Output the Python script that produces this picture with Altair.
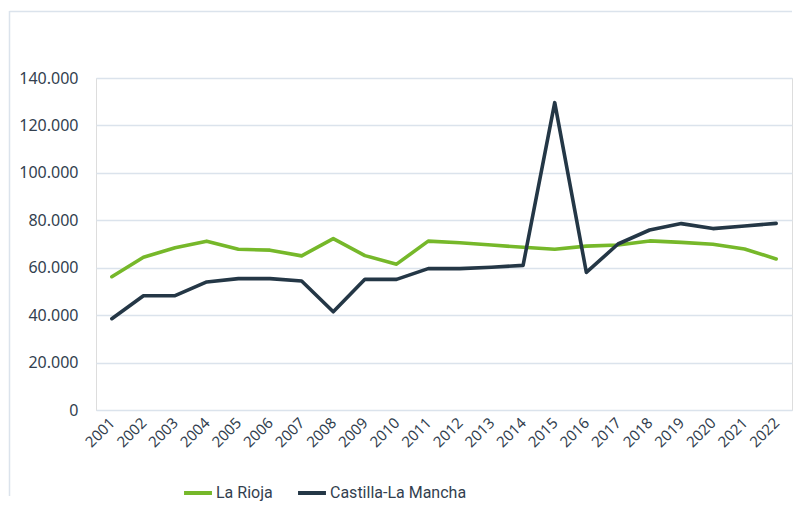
import altair as alt
import pandas as pd

years = [str(y) for y in range(2001, 2023)]
la_rioja = [56200, 64400, 68400, 71200, 67800, 67400, 65000, 72300, 65100, 61500,
            71200, 70500, 69600, 68600, 67800, 69100, 69600, 71300, 70700, 69900,
            67900, 63700]
castilla = [38500, 48200, 48200, 54000, 55400, 55400, 54400, 41400, 55100, 55100,
            59600, 59600, 60200, 61000, 129600, 58000, 70000, 75900, 78600, 76500,
            77600, 78700]
series_names = ["La Rioja", "Castilla-La Mancha"]
series_colors = ["#76b82a", "#243746"]

rows = []
for i, y in enumerate(years):
    rows.append({"year": y, "serie": series_names[0], "value": la_rioja[i]})
    rows.append({"year": y, "serie": series_names[1], "value": castilla[i]})
df = pd.DataFrame(rows)

W, H = 696, 332
FONT = "Noto Sans"
LEG_FONT = "Roboto"
TXT = "#333f4f"
GRID = "#dbe3ec"

lines = alt.Chart(df).mark_line(strokeWidth=3.6, strokeCap="round", strokeJoin="round").encode(
    x=alt.X("year:O", sort=years, title=None,
            scale=alt.Scale(type="point", padding=0.5),
            axis=alt.Axis(labelAngle=-45, labelAlign="right", labelBaseline="middle",
                          labelPadding=10, ticks=False, domain=False, grid=False,
                          labelFontSize=15, labelColor=TXT, labelFont=FONT)),
    y=alt.Y("value:Q", title=None,
            scale=alt.Scale(domain=[0, 140000], nice=False),
            axis=alt.Axis(values=list(range(0, 140001, 20000)), ticks=False, domain=False,
                          gridColor=GRID, gridWidth=1.3, labelPadding=18,
                          labelFontSize=16, labelColor=TXT, labelFont=FONT,
                          labelExpr="replace(format(datum.value, ',d'), ',', '.')")),
    color=alt.Color("serie:N", sort=series_names,
                    scale=alt.Scale(domain=series_names, range=series_colors),
                    legend=alt.Legend(title=None, orient="none", direction="horizontal",
                                      legendX=86, legendY=399,
                                      symbolType="stroke", symbolStrokeWidth=4,
                                      symbolSize=780, labelOffset=2, columnPadding=17,
                                      labelFontSize=16, labelColor=TXT, labelFont=LEG_FONT)),
)

dummy = pd.DataFrame({"a": [0]})
border_left = alt.Chart(dummy).mark_rule(color=GRID, strokeWidth=1.5).encode(
    x=alt.value(-86.5), y=alt.value(-67), y2=alt.value(H + 86))
border_top = alt.Chart(dummy).mark_rule(color=GRID, strokeWidth=1.5).encode(
    x=alt.value(-86.5), x2=alt.value(W), y=alt.value(-66.5))

chart = alt.layer(border_left, border_top, lines).properties(
    width=W, height=H, padding={"left": 0, "top": 2, "right": 0, "bottom": 0}
).configure_view(stroke=None).configure(background="white")

chart.save("out.html", embed_options={"renderer": "svg", "actions": False})
